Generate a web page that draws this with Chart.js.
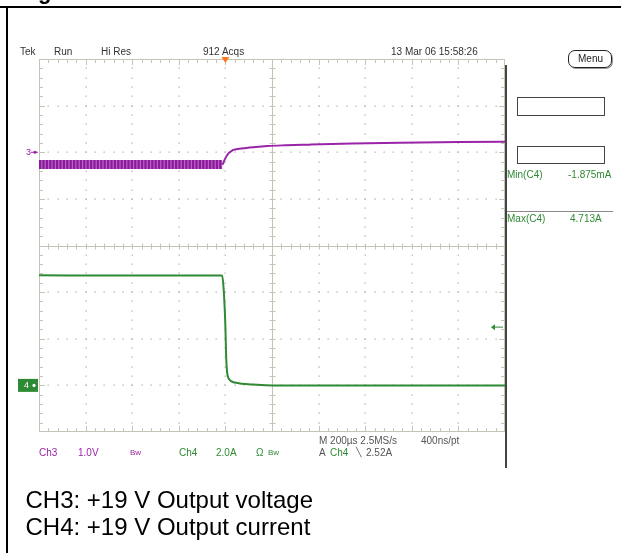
<!DOCTYPE html>
<html>
<head>
<meta charset="utf-8">
<script src="https://cdn.jsdelivr.net/npm/chart.js@4"></script>
<style>
    html, body { margin: 0; padding: 0; background: #fff; }
    #page { position: relative; width: 621px; height: 553px; overflow: hidden; font-family: "Liberation Sans", Arial, sans-serif; }
    #scope { position: absolute; left: 0; top: 0; }
    .lbl { position: absolute; white-space: nowrap; line-height: 10px; font-size: 10px; }
    .box { position: absolute; border: 1px solid #555; box-sizing: border-box; }
</style>
</head>
<body>
<div id="page">
    <canvas id="scope" width="621" height="553"></canvas>
</div>
<script>
// time axis in µs, trigger at 0 (200 µs/div, 10 divisions)
const timeMin = -800;
const timeMax = 1200;
const timeDiv = 200;

// CH3: 1.0 V/div, values in V relative to the "3" marker
const ch3RefDiv = 2;
const ch3VoltsPerDiv = 1.0;
const ch3RippleTime = [-800, -14];
const ch3RippleVolts = [-0.265, -0.265];
const ch3Time = [-14, -10, -4, 2, 8, 14, 22, 34, 60, 90, 130, 180, 260, 360, 500, 750, 1000, 1200];
const ch3Volts = [-0.265, -0.24, -0.17, -0.11, -0.06, -0.02, 0.01, 0.05, 0.075, 0.092, 0.115, 0.135, 0.15, 0.163, 0.18, 0.206, 0.218, 0.227];

// CH4: 2.0 A/div, values in A relative to the "4" marker
const ch4RefDiv = -3;
const ch4AmpsPerDiv = 2.0;
const ch4Time = [-800, -400, -14, -8, -3, 0, 3, 6, 10, 16, 24, 40, 70, 120, 200, 600, 1200];
const ch4Amps = [4.72, 4.71, 4.71, 4.2, 3.3, 2.52, 1.3, 0.7, 0.4, 0.26, 0.18, 0.12, 0.07, 0.035, 0.0, 0.0, 0.0];
const ch4TriggerLevel = 2.52;

const ch3Color = '#9a24a8';
const ch4Color = '#2f8a34';

function toPoints(times, values, refDiv, perDiv) {
    return times.map((t, i) => ({ x: t, y: refDiv + values[i] / perDiv }));
}

const scopeGrid = {
    id: 'scopeGrid',
    beforeDatasetsDraw(chart) {
        const { ctx, chartArea: a, scales: { x, y } } = chart;
        const minorX = (a.right - a.left) / 50;
        const minorY = (a.bottom - a.top) / 40;
        ctx.save();

        // dotted division lines
        ctx.fillStyle = '#b4b4a8';
        for (let d = 1; d < 10; d++) {
            if (d === 5) continue;
            const px = Math.round(x.getPixelForValue(timeMin + d * timeDiv));
            for (let m = 1; m < 40; m++) {
                ctx.fillRect(px - 0.5, Math.round(a.top + m * minorY) - 0.5, 1.3, 1.3);
            }
        }
        for (let d = -3; d <= 3; d++) {
            if (d === 0) continue;
            const py = Math.round(y.getPixelForValue(d));
            for (let m = 1; m < 50; m++) {
                ctx.fillRect(Math.round(a.left + m * minorX) - 0.5, py - 0.5, 1.3, 1.3);
            }
        }

        // border and center cross with ticks
        ctx.strokeStyle = '#c4c4b6';
        ctx.lineWidth = 1;
        ctx.strokeRect(a.left + 0.5, a.top + 0.5, a.right - a.left - 1, a.bottom - a.top - 1);
        const cx = Math.round(x.getPixelForValue(timeMin + 5 * timeDiv)) + 0.5;
        const cy = Math.round(y.getPixelForValue(0)) + 0.5;
        ctx.beginPath();
        ctx.moveTo(a.left, cy); ctx.lineTo(a.right, cy);
        ctx.moveTo(cx, a.top); ctx.lineTo(cx, a.bottom);
        for (let m = 1; m < 50; m++) {
            const px = Math.round(a.left + m * minorX) + 0.5;
            const len = m % 5 === 0 ? 6 : 4;
            ctx.moveTo(px, a.top); ctx.lineTo(px, a.top + len);
            ctx.moveTo(px, a.bottom); ctx.lineTo(px, a.bottom - len);
            ctx.moveTo(px, cy - 3); ctx.lineTo(px, cy + 3);
        }
        for (let m = 1; m < 40; m++) {
            const py = Math.round(a.top + m * minorY) + 0.5;
            const len = m % 5 === 0 ? 6 : 4;
            ctx.moveTo(a.left, py); ctx.lineTo(a.left + len, py);
            ctx.moveTo(a.right, py); ctx.lineTo(a.right - len, py);
            ctx.moveTo(cx - 3, py); ctx.lineTo(cx + 3, py);
        }
        ctx.stroke();
        ctx.restore();
    },
    afterDatasetsDraw(chart) {
        const { ctx, chartArea: a, scales: { x, y } } = chart;
        ctx.save();

        // trigger position marker
        const tx = x.getPixelForValue(0);
        ctx.fillStyle = '#ff7a1c';
        ctx.beginPath();
        ctx.moveTo(tx - 4, a.top - 2); ctx.lineTo(tx + 4, a.top - 2); ctx.lineTo(tx, a.top + 4);
        ctx.closePath();
        ctx.fill();

        // CH3 ground marker
        const y3 = y.getPixelForValue(ch3RefDiv);
        ctx.fillStyle = ch3Color;
        ctx.strokeStyle = ch3Color;
        ctx.font = '9px "Liberation Sans", Arial';
        ctx.textBaseline = 'middle';
        ctx.fillText('3', 26, y3);
        ctx.beginPath();
        ctx.moveTo(31, y3); ctx.lineTo(a.left - 1, y3);
        ctx.stroke();
        ctx.beginPath();
        ctx.arc(35, y3, 1.6, 0, Math.PI * 2);
        ctx.fill();

        // CH4 ground marker
        const y4 = y.getPixelForValue(ch4RefDiv);
        ctx.fillStyle = ch4Color;
        ctx.fillRect(18, y4 - 6.5, 20, 13);
        ctx.fillStyle = '#fff';
        ctx.fillText('4', 24, y4 + 0.5);
        ctx.beginPath();
        ctx.arc(34, y4, 1.6, 0, Math.PI * 2);
        ctx.fill();

        // CH4 trigger level arrow
        const yt = y.getPixelForValue(ch4RefDiv + ch4TriggerLevel / ch4AmpsPerDiv);
        ctx.strokeStyle = ch4Color;
        ctx.fillStyle = ch4Color;
        ctx.lineWidth = 1;
        ctx.beginPath();
        ctx.moveTo(a.right - 12, yt + 0.5); ctx.lineTo(a.right - 2, yt + 0.5);
        ctx.stroke();
        ctx.beginPath();
        ctx.moveTo(a.right - 14, yt + 0.5); ctx.lineTo(a.right - 10, yt - 2.5); ctx.lineTo(a.right - 10, yt + 3.5);
        ctx.closePath();
        ctx.fill();
        ctx.restore();
    }
};

new Chart(document.getElementById('scope'), {
    type: 'line',
    data: {
        datasets: [
            {
                // ripple band, underlay
                data: toPoints(ch3RippleTime, ch3RippleVolts, ch3RefDiv, ch3VoltsPerDiv),
                borderColor: '#b866c4',
                borderWidth: 9,
                borderCapStyle: 'butt',
                order: 3
            },
            {
                // ripple band, dense stripes on top
                data: toPoints(ch3RippleTime, ch3RippleVolts, ch3RefDiv, ch3VoltsPerDiv),
                borderColor: '#8c1a9c',
                borderWidth: 9,
                borderDash: [2.2, 1.2],
                borderCapStyle: 'butt',
                order: 2
            },
            {
                data: toPoints(ch3Time, ch3Volts, ch3RefDiv, ch3VoltsPerDiv),
                borderColor: ch3Color,
                borderWidth: 2,
                cubicInterpolationMode: 'monotone',
                order: 1
            },
            {
                data: toPoints(ch4Time, ch4Amps, ch4RefDiv, ch4AmpsPerDiv),
                borderColor: ch4Color,
                borderWidth: 2,
                cubicInterpolationMode: 'monotone',
                order: 1
            }
        ]
    },
    options: {
        responsive: false,
        animation: false,
        devicePixelRatio: 1,
        layout: { padding: { left: 39, top: 59, right: 116, bottom: 121 } },
        elements: { point: { radius: 0 } },
        plugins: { legend: { display: false }, tooltip: { enabled: false } },
        scales: {
            x: { type: 'linear', min: timeMin, max: timeMax, display: false },
            y: { type: 'linear', min: -4, max: 4, display: false }
        }
    },
    plugins: [scopeGrid]
});

// screen texts
const page = document.getElementById('page');
function label(text, x, yMid, color, size) {
    const el = document.createElement('div');
    el.className = 'lbl';
    el.textContent = text;
    el.style.left = x + 'px';
    el.style.top = (yMid - 4.9 * size / 10) + 'px';
    el.style.color = color;
    if (size) { el.style.fontSize = size + 'px'; el.style.lineHeight = size + 'px'; }
    page.appendChild(el);
    return el;
}
function box(x, y, w, h, extra) {
    const el = document.createElement('div');
    el.className = 'box';
    el.style.left = x + 'px';
    el.style.top = y + 'px';
    el.style.width = w + 'px';
    el.style.height = h + 'px';
    Object.assign(el.style, extra || {});
    page.appendChild(el);
    return el;
}

label('Tek', 20, 52, '#333', 10);
label('Run', 54, 52, '#333', 10);
label('Hi Res', 101, 52, '#333', 10);
label('912 Acqs', 203, 52, '#333', 10);
label('13 Mar 06 15:58:26', 391, 52, '#333', 10);

label('Ch3', 39, 453, ch3Color, 10);
label('1.0V', 78, 453, ch3Color, 10);
label('Bw', 130, 453, ch3Color, 8);
label('Ch4', 179, 453, ch4Color, 10);
label('2.0A', 216, 453, ch4Color, 10);
label('Ω', 256, 453, ch4Color, 10);
label('Bw', 268, 453, ch4Color, 8);
label('M 200µs 2.5MS/s', 319, 441, '#555', 10);
label('400ns/pt', 421, 441, '#555', 10);
label('A', 319, 452.5, '#555', 10);
label('Ch4', 330, 452.5, ch4Color, 10);
label('╲', 356, 452.5, '#555', 9);
label('2.52A', 366, 452.5, '#555', 10);

// side panel
box(568, 50, 44, 18, { borderRadius: '7px', borderColor: '#222', boxShadow: '1px 1px 0 #999' });
label('Menu', 578, 59, '#222', 10);
box(517, 97, 88, 19, { borderColor: '#444', borderWidth: '1.5px' });
box(517, 146, 88, 18, { borderColor: '#444', borderWidth: '1.5px' });
label('Min(C4)', 507, 175, ch4Color, 10);
label('-1.875mA', 568, 175, ch4Color, 10);
box(507, 211, 106, 1, { border: 'none', background: '#888' });
label('Max(C4)', 507, 219, ch4Color, 10);
label('4.713A', 570, 219, ch4Color, 10);
box(505, 65, 2, 403, { border: 'none', background: '#444' });

// document frame and caption
box(0, 6, 621, 2, { border: 'none', background: '#000' });
box(6, 6, 2, 547, { border: 'none', background: '#000' });
const g = label('g', 38, -8, '#000', 22);
g.style.fontWeight = 'bold';
const cap1 = label('CH3: +19 V Output voltage', 25.5, 500, '#000', 24);
const cap2 = label('CH4: +19 V Output current', 25.5, 527, '#000', 24);
</script>
</body>
</html>
